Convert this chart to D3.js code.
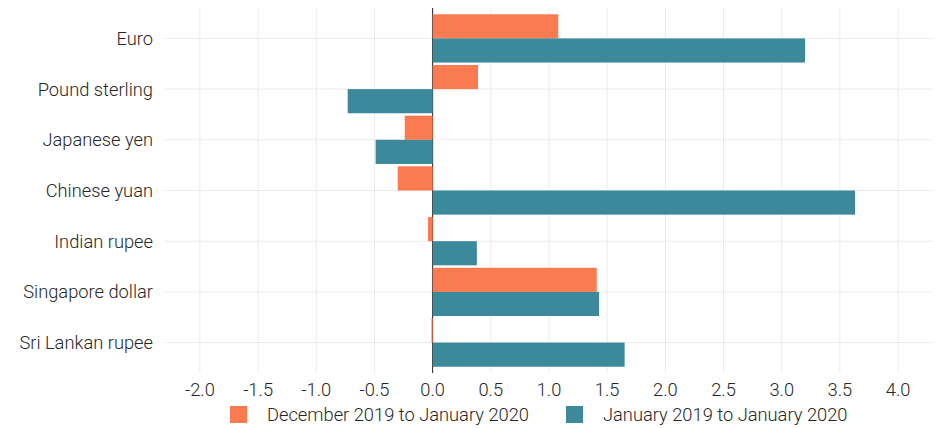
<!DOCTYPE html>
<html lang="en">
<head>
    <meta charset="UTF-8">
    <title>Exchange rate changes</title>
    <script src="https://d3js.org/d3.v7.min.js"></script>
    <style>
        body { margin: 0; background: #fff; }
        text { font-family: Roboto, sans-serif; font-weight: 300; fill: #262626; }
    </style>
</head>
<body>
    <div id="chart"></div>
    <script>
        // data
        const currencies = ["Euro", "Pound sterling", "Japanese yen", "Chinese yuan",
            "Indian rupee", "Singapore dollar", "Sri Lankan rupee"];
        const seriesNames = ["December 2019 to January 2020", "January 2019 to January 2020"];
        const monthly = [1.08, 0.39, -0.24, -0.30, -0.04, 1.41, -0.01];
        const yearly = [3.20, -0.73, -0.49, 3.63, 0.38, 1.43, 1.65];
        const xTicks = [-2.0, -1.5, -1.0, -0.5, 0.0, 0.5, 1.0, 1.5, 2.0, 2.5, 3.0, 3.5, 4.0];
        const colors = ["#fa7b4f", "#3c899b"];

        const width = 939, height = 428;
        const margin = { top: 8, right: 6, bottom: 55, left: 165 };

        const svg = d3.select("#chart").append("svg")
            .attr("width", width)
            .attr("height", height);

        const x = d3.scaleLinear()
            .domain([-2.3, 4.3])
            .range([margin.left, width - margin.right]);

        const y = d3.scaleBand()
            .domain(currencies)
            .range([margin.top, height - margin.bottom])
            .paddingInner(0)
            .paddingOuter(0.1);

        // the two bars inside each category band
        const sub = d3.scaleBand()
            .domain([0, 1])
            .range([0, y.bandwidth()])
            .paddingOuter(0.05)
            .paddingInner(0);

        // gridlines
        const grid = svg.append("g").attr("stroke", "#ebebeb").attr("stroke-width", 1);
        grid.selectAll("line.v")
            .data(xTicks)
            .join("line")
            .attr("class", "v")
            .attr("x1", d => x(d)).attr("x2", d => x(d))
            .attr("y1", margin.top).attr("y2", height - margin.bottom);
        grid.selectAll("line.h")
            .data(currencies)
            .join("line")
            .attr("class", "h")
            .attr("x1", margin.left).attr("x2", width - margin.right)
            .attr("y1", d => y(d) + y.bandwidth() / 2)
            .attr("y2", d => y(d) + y.bandwidth() / 2);

        // zero line
        svg.append("line")
            .attr("x1", x(0)).attr("x2", x(0))
            .attr("y1", margin.top).attr("y2", height - margin.bottom)
            .attr("stroke", "#222").attr("stroke-width", 1);

        // bars
        const rows = currencies.map((c, i) => ({ name: c, values: [monthly[i], yearly[i]] }));
        svg.append("g")
            .selectAll("g")
            .data(rows)
            .join("g")
            .attr("transform", d => `translate(0,${y(d.name)})`)
            .selectAll("rect")
            .data(d => d.values.map((v, k) => ({ k, v })))
            .join("rect")
            .attr("x", d => x(Math.min(0, d.v)))
            .attr("width", d => Math.abs(x(d.v) - x(0)))
            .attr("y", d => sub(d.k))
            .attr("height", sub.bandwidth())
            .attr("fill", d => colors[d.k]);

        // y labels
        svg.append("g")
            .selectAll("text")
            .data(currencies)
            .join("text")
            .attr("x", margin.left - 12)
            .attr("y", d => y(d) + y.bandwidth() / 2)
            .attr("dy", "0.35em")
            .attr("text-anchor", "end")
            .attr("font-size", 18.3)
            .text(d => d);

        // x tick labels
        svg.append("g")
            .selectAll("text")
            .data(xTicks)
            .join("text")
            .attr("x", d => x(d))
            .attr("y", height - margin.bottom + 22.5)
            .attr("text-anchor", "middle")
            .attr("font-size", 18.3)
            .text(d => d3.format(".1f")(d).replace("−", "-"));

        // legend
        const legendX = [230, 566];
        const legend = svg.append("g")
            .selectAll("g")
            .data(seriesNames)
            .join("g")
            .attr("transform", (d, i) => `translate(${legendX[i]},406)`);
        legend.append("rect")
            .attr("width", 17).attr("height", 17)
            .attr("fill", (d, i) => colors[i]);
        legend.append("text")
            .attr("x", 37)
            .attr("y", 8.5)
            .attr("dy", "0.35em")
            .attr("font-size", 18.3)
            .text(d => d);
    </script>
</body>
</html>
